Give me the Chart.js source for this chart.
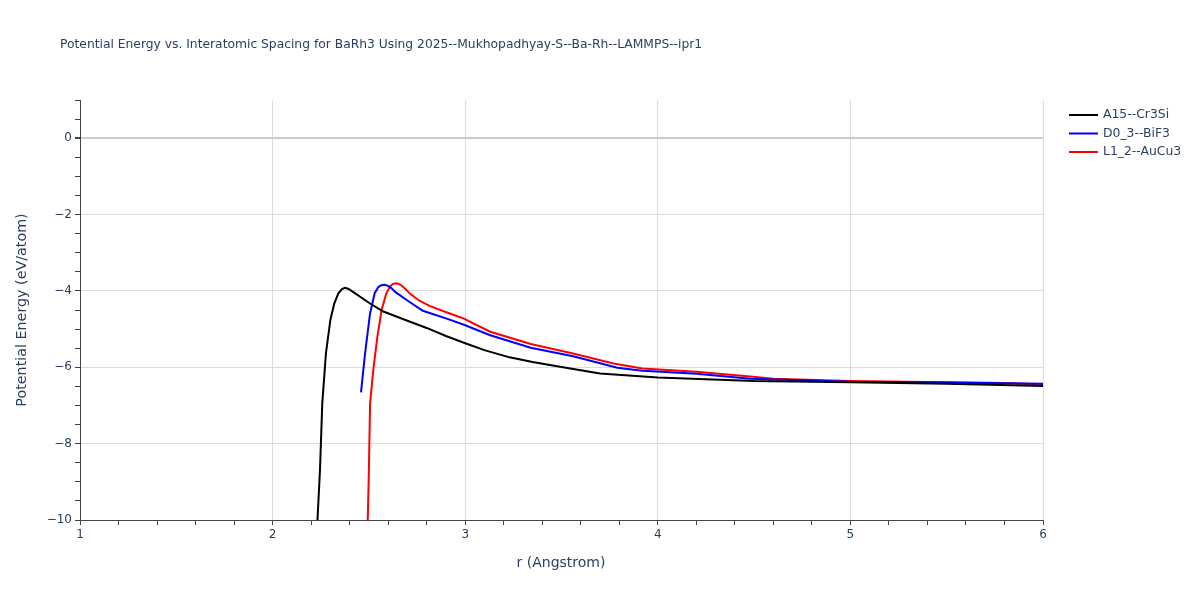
<!DOCTYPE html>
<html>
<head>
<meta charset="utf-8">
<script src="https://cdn.jsdelivr.net/npm/chart.js@4"></script>
<style>
  body { margin: 0; background: #fff; }
  #wrap { position: relative; width: 1200px; height: 600px; }
</style>
</head>
<body>
<div id="wrap"><canvas id="energyChart" width="1200" height="600"></canvas></div>
<script>
// Datos (r en Angstrom, energía en eV/átomo)
const seriesNames = ['A15--Cr3Si', 'D0_3--BiF3', 'L1_2--AuCu3'];
const seriesColors = ['#000000', '#0000ff', '#ff0000'];

const rA15 = [2.222, 2.233, 2.246, 2.258, 2.277, 2.30, 2.32, 2.341, 2.36, 2.376, 2.395, 2.419, 2.506, 2.575, 2.7, 2.8, 2.9, 3.0, 3.1, 3.23, 3.35, 3.5, 3.7, 4.0, 4.5, 5.0, 5.5, 6.0];
const eA15 = [-11, -10, -8.69, -6.94, -5.63, -4.76, -4.33, -4.07, -3.95, -3.92, -3.95, -4.03, -4.33, -4.54, -4.78, -4.97, -5.18, -5.37, -5.55, -5.74, -5.86, -5.99, -6.16, -6.27, -6.36, -6.39, -6.43, -6.49];

const rD03 = [2.459, 2.48, 2.506, 2.53, 2.549, 2.565, 2.58, 2.597, 2.615, 2.64, 2.7, 2.78, 2.9, 2.99, 3.13, 3.34, 3.56, 3.79, 3.92, 4.2, 4.48, 5.0, 5.5, 6.0];
const eD03 = [-6.66, -5.64, -4.59, -4.06, -3.9, -3.85, -3.84, -3.86, -3.92, -4.04, -4.25, -4.52, -4.72, -4.88, -5.16, -5.49, -5.71, -6.01, -6.09, -6.17, -6.30, -6.38, -6.40, -6.43];

const rL12 = [2.488, 2.494, 2.500, 2.506, 2.523, 2.544, 2.566, 2.59, 2.61, 2.627, 2.645, 2.665, 2.69, 2.713, 2.76, 2.817, 2.92, 2.99, 3.13, 3.34, 3.56, 3.77, 3.92, 4.2, 4.48, 4.6, 5.0, 5.5, 5.8, 6.0];
const eL12 = [-11, -10, -8.69, -6.95, -6.07, -5.2, -4.5, -4.07, -3.88, -3.81, -3.80, -3.84, -3.95, -4.07, -4.25, -4.40, -4.59, -4.72, -5.07, -5.39, -5.64, -5.90, -6.03, -6.12, -6.24, -6.30, -6.36, -6.39, -6.41, -6.45];

const xTicksMajor = [1, 2, 3, 4, 5, 6];
const yTicksMajor = [-10, -8, -6, -4, -2, 0];

const FONT = '"DejaVu Sans", Verdana, sans-serif';
const TEXT = '#2a3f5f';

function toPoints(xs, ys) {
    return xs.map((x, i) => ({ x: x, y: ys[i] }));
}

function isMajor(v, list) {
    return list.some(m => Math.abs(v - m) < 1e-6);
}

// Título y leyenda dibujados a mano (estilo plotly)
const extrasPlugin = {
    id: 'extras',
    afterDraw(chart) {
        const ctx = chart.ctx;
        ctx.save();
        ctx.fillStyle = TEXT;
        ctx.textBaseline = 'middle';
        ctx.font = '12.3px ' + FONT;
        ctx.textAlign = 'left';
        ctx.fillText('Potential Energy vs. Interatomic Spacing for BaRh3 Using 2025--Mukhopadhyay-S--Ba-Rh--LAMMPS--ipr1', 60, 45);

        ctx.font = '12.4px ' + FONT;
        seriesNames.forEach((name, i) => {
            const y = 115 + i * 18.5;
            ctx.strokeStyle = seriesColors[i];
            ctx.lineWidth = 2;
            ctx.beginPath();
            ctx.moveTo(1069, y);
            ctx.lineTo(1098, y);
            ctx.stroke();
            ctx.fillStyle = TEXT;
            ctx.fillText(name, 1103, y);
        });

        // títulos de ejes
        ctx.font = '14px ' + FONT;
        ctx.textAlign = 'center';
        ctx.fillText('r (Angstrom)', 561, 563);
        ctx.font = '14.3px ' + FONT;
        ctx.translate(22, 310);
        ctx.rotate(-Math.PI / 2);
        ctx.fillText('Potential Energy (eV/atom)', 0, 0);
        ctx.restore();
    }
};

const ctx = document.getElementById('energyChart');
new Chart(ctx, {
    type: 'line',
    data: {
        datasets: [
            { label: seriesNames[0], data: toPoints(rA15, eA15) },
            { label: seriesNames[1], data: toPoints(rD03, eD03) },
            { label: seriesNames[2], data: toPoints(rL12, eL12) }
        ].map((d, i) => Object.assign(d, {
            borderColor: seriesColors[i],
            backgroundColor: seriesColors[i],
            borderWidth: 2,
            pointRadius: 0,
            tension: 0,
            fill: false
        }))
    },
    options: {
        responsive: false,
        animation: false,
        layout: { padding: { left: 0, top: 100, right: 157, bottom: 0 } },
        plugins: {
            legend: { display: false },
            tooltip: { enabled: false }
        },
        scales: {
            x: {
                type: 'linear',
                min: 1,
                max: 6,
                afterFit: s => { s.height = 80; },
                afterBuildTicks: s => {
                    const t = [];
                    for (let k = 0; k <= 25; k++) t.push({ value: 1 + k * 0.2 });
                    s.ticks = t;
                },
                border: { display: true, color: '#444', width: 1 },
                grid: {
                    color: c => isMajor(c.tick.value, xTicksMajor) ? '#dcdcdc' : 'rgba(0,0,0,0)',
                    tickColor: '#444',
                    tickLength: 5,
                    drawTicks: true
                },
                ticks: {
                    color: TEXT,
                    font: { family: FONT, size: 12 },
                    maxRotation: 0,
                    autoSkip: false,
                    padding: 3,
                    callback: v => isMajor(v, xTicksMajor) ? String(Math.round(v)) : ''
                }
            },
            y: {
                type: 'linear',
                min: -10,
                max: 1,
                afterFit: s => { s.width = 80; },
                afterBuildTicks: s => {
                    const t = [];
                    for (let k = 0; k <= 22; k++) t.push({ value: -10 + k * 0.5 });
                    s.ticks = t;
                },
                border: { display: true, color: '#444', width: 1 },
                grid: {
                    color: c => {
                        const v = c.tick.value;
                        if (Math.abs(v) < 1e-6) return '#cccccc';
                        return isMajor(v, yTicksMajor) ? '#dcdcdc' : 'rgba(0,0,0,0)';
                    },
                    lineWidth: c => Math.abs(c.tick.value) < 1e-6 ? 2 : 1,
                    tickColor: '#444',
                    tickLength: 5,
                    drawTicks: true
                },
                ticks: {
                    color: TEXT,
                    font: { family: FONT, size: 12 },
                    autoSkip: false,
                    padding: 3,
                    callback: v => isMajor(v, yTicksMajor) ? String(Math.round(v)).replace('-', '\u2212') : ''
                }
            }
        }
    },
    plugins: [extrasPlugin]
});
</script>
</body>
</html>
